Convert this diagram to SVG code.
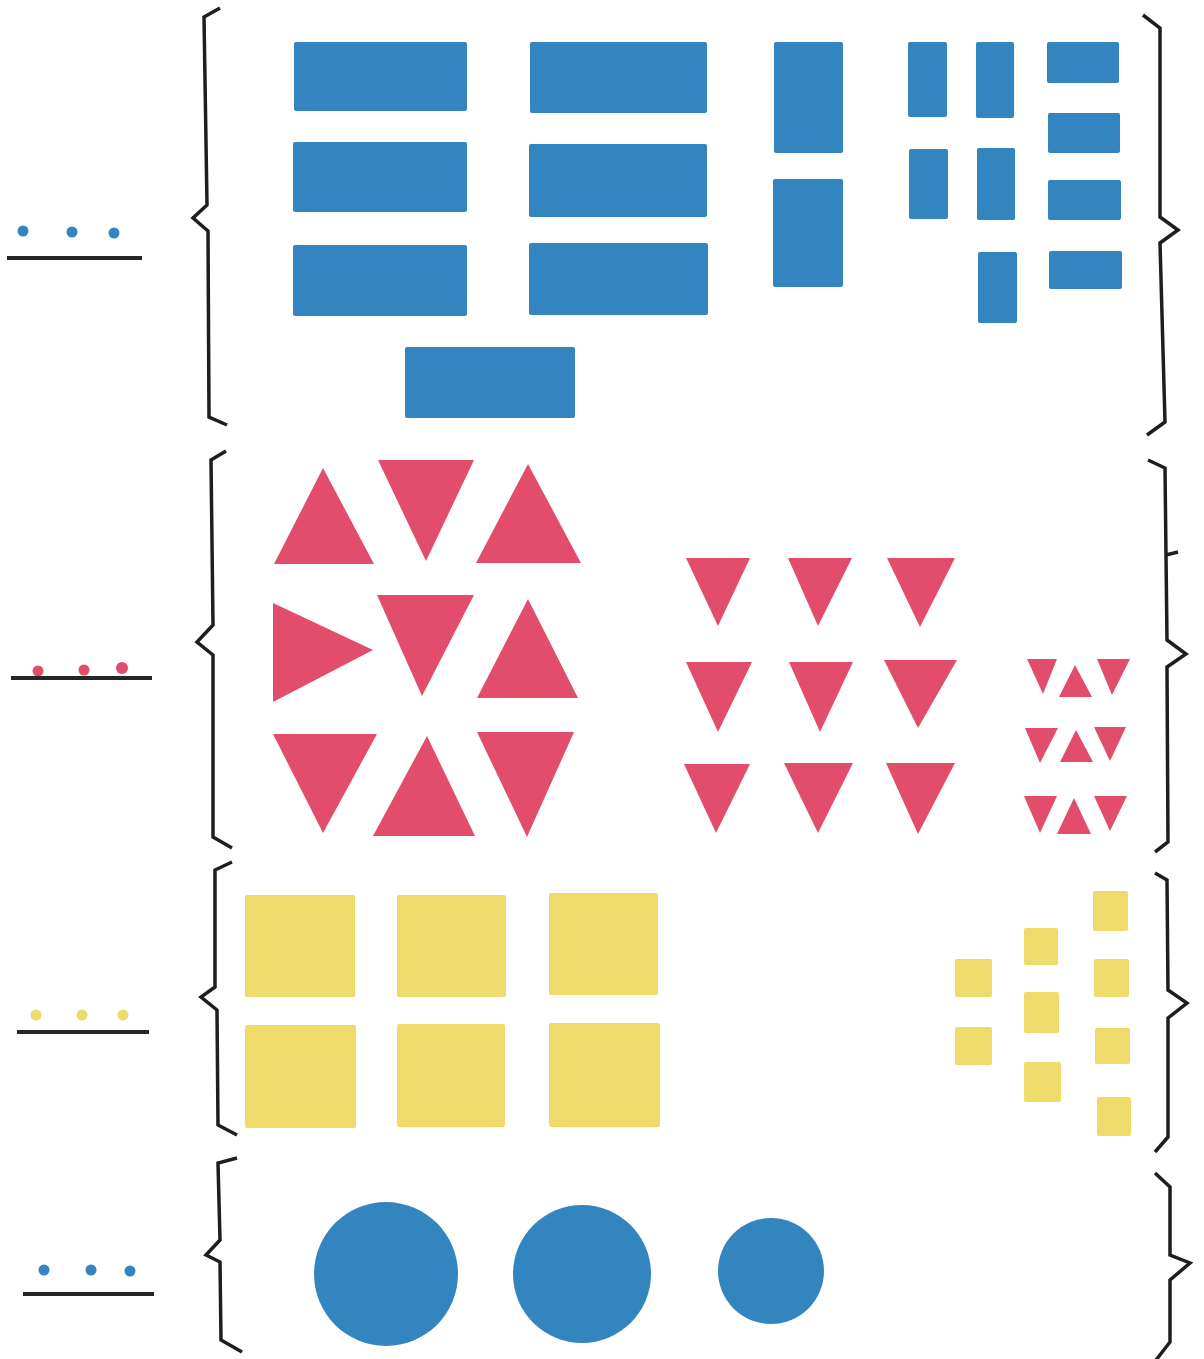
<svg xmlns="http://www.w3.org/2000/svg" width="1204" height="1359" viewBox="0 0 1204 1359">
<style>
.b{fill:#3385c0}
.r{fill:#e24d6c}
.y{fill:#eedb6a}
.br{fill:none;stroke:#1e1e1e;stroke-width:3.5;stroke-linejoin:miter}
.ln{stroke:#262626;stroke-width:4;stroke-linecap:butt}
</style>
<rect width="1204" height="1359" fill="#ffffff"/>

<g id="set-rectangles">
  <g id="label-1">
    <circle class="b" cx="23" cy="231" r="5.5"/>
    <circle class="b" cx="72" cy="232" r="5.5"/>
    <circle class="b" cx="114" cy="233" r="5.5"/>
    <line class="ln" x1="7" y1="258" x2="142" y2="258"/>
  </g>
  <path class="br" d="M220 8 L204 17 L207 205 L193 218 L208 231 L209 417 L227 425"/>
  <path class="br" d="M1143 15 L1160 28 L1160 217 L1178 230 L1160 243 L1165 422 L1147 435"/>
  <g id="rects">
    <rect class="b" x="294" y="42" width="173" height="69" rx="2"/>
    <rect class="b" x="530" y="42" width="177" height="71" rx="2"/>
    <rect class="b" x="293" y="142" width="174" height="70" rx="2"/>
    <rect class="b" x="529" y="144" width="178" height="73" rx="2"/>
    <rect class="b" x="293" y="245" width="174" height="71" rx="2"/>
    <rect class="b" x="529" y="243" width="179" height="72" rx="2"/>
    <rect class="b" x="405" y="347" width="170" height="71" rx="2"/>
    <rect class="b" x="774" y="42" width="69" height="111" rx="2"/>
    <rect class="b" x="773" y="179" width="70" height="108" rx="2"/>
    <rect class="b" x="908" y="42" width="39" height="75" rx="2"/>
    <rect class="b" x="909" y="149" width="39" height="70" rx="2"/>
    <rect class="b" x="976" y="42" width="38" height="76" rx="2"/>
    <rect class="b" x="977" y="148" width="38" height="72" rx="2"/>
    <rect class="b" x="978" y="252" width="39" height="71" rx="2"/>
    <rect class="b" x="1047" y="42" width="72" height="41" rx="2"/>
    <rect class="b" x="1048" y="113" width="72" height="40" rx="2"/>
    <rect class="b" x="1048" y="180" width="73" height="40" rx="2"/>
    <rect class="b" x="1049" y="251" width="73" height="38" rx="2"/>
  </g>
</g>

<g id="set-triangles">
  <g id="label-2">
    <circle class="r" cx="38" cy="671" r="5.5"/>
    <circle class="r" cx="84" cy="670" r="5.5"/>
    <circle class="r" cx="122" cy="668" r="6"/>
    <line class="ln" x1="11" y1="678" x2="152" y2="678"/>
  </g>
  <path class="br" d="M226 451 L211 460 L213 625 L197 642 L213 655 L213 837 L232 848"/>
  <path class="br" d="M1148 460 L1165 468 L1166 555 L1178 552 M1166 555 L1167 640 L1186 654 L1167 667 L1168 842 L1155 852"/>
  <g id="big-triangles">
    <polygon class="r" points="323,468 274,564 374,564"/>
    <polygon class="r" points="378,460 474,460 426,561"/>
    <polygon class="r" points="528,464 476,563 581,563"/>
    <polygon class="r" points="273,603 273,702 373,650"/>
    <polygon class="r" points="377,595 474,595 422,696"/>
    <polygon class="r" points="528,599 477,698 578,698"/>
    <polygon class="r" points="273,734 377,734 323,833"/>
    <polygon class="r" points="427,736 373,836 475,836"/>
    <polygon class="r" points="477,732 574,732 527,837"/>
  </g>
  <g id="mid-triangles">
    <polygon class="r" points="686,558 750,558 718,626"/>
    <polygon class="r" points="788,558 852,558 818,626"/>
    <polygon class="r" points="887,558 955,558 920,627"/>
    <polygon class="r" points="686,662 752,662 718,732"/>
    <polygon class="r" points="789,662 853,662 820,732"/>
    <polygon class="r" points="884,660 957,660 918,728"/>
    <polygon class="r" points="684,764 750,764 716,833"/>
    <polygon class="r" points="784,763 853,763 818,833"/>
    <polygon class="r" points="886,763 955,763 918,834"/>
  </g>
  <g id="small-triangles">
    <polygon class="r" points="1027,659 1057,659 1043,694"/>
    <polygon class="r" points="1075,665 1059,697 1092,697"/>
    <polygon class="r" points="1097,659 1130,659 1112,695"/>
    <polygon class="r" points="1025,728 1058,728 1040,763"/>
    <polygon class="r" points="1076,730 1060,762 1093,762"/>
    <polygon class="r" points="1094,727 1126,727 1110,761"/>
    <polygon class="r" points="1024,796 1057,796 1040,833"/>
    <polygon class="r" points="1074,798 1057,834 1091,834"/>
    <polygon class="r" points="1094,796 1127,796 1110,831"/>
  </g>
</g>

<g id="set-squares">
  <g id="label-3">
    <circle class="y" cx="36" cy="1015" r="5.5"/>
    <circle class="y" cx="82" cy="1015" r="5.5"/>
    <circle class="y" cx="123" cy="1015" r="5.5"/>
    <line class="ln" x1="17" y1="1032" x2="149" y2="1032"/>
  </g>
  <path class="br" d="M232 862 L215 870 L215 987 L201 997 L217 1010 L218 1125 L237 1135"/>
  <path class="br" d="M1155 873 L1167 880 L1168 990 L1187 1003 L1168 1018 L1168 1137 L1155 1152"/>
  <g id="big-squares">
    <rect class="y" x="245" y="895" width="110" height="102" rx="2"/>
    <rect class="y" x="397" y="895" width="109" height="102" rx="2"/>
    <rect class="y" x="549" y="893" width="109" height="102" rx="2"/>
    <rect class="y" x="245" y="1025" width="111" height="103" rx="2"/>
    <rect class="y" x="397" y="1024" width="108" height="103" rx="2"/>
    <rect class="y" x="549" y="1023" width="111" height="104" rx="2"/>
  </g>
  <g id="small-squares">
    <rect class="y" x="955" y="959" width="37" height="38" rx="2"/>
    <rect class="y" x="955" y="1027" width="37" height="38" rx="2"/>
    <rect class="y" x="1024" y="928" width="34" height="37" rx="2"/>
    <rect class="y" x="1024" y="992" width="35" height="41" rx="2"/>
    <rect class="y" x="1024" y="1062" width="37" height="40" rx="2"/>
    <rect class="y" x="1093" y="891" width="35" height="40" rx="2"/>
    <rect class="y" x="1094" y="959" width="35" height="38" rx="2"/>
    <rect class="y" x="1095" y="1028" width="35" height="36" rx="2"/>
    <rect class="y" x="1097" y="1097" width="34" height="39" rx="2"/>
  </g>
</g>

<g id="set-circles">
  <g id="label-4">
    <circle class="b" cx="44" cy="1270" r="5.5"/>
    <circle class="b" cx="91" cy="1270" r="5.5"/>
    <circle class="b" cx="130" cy="1271" r="5.5"/>
    <line class="ln" x1="23" y1="1294" x2="154" y2="1294"/>
  </g>
  <path class="br" d="M237 1158 L218 1163 L220 1240 L206 1255 L220 1262 L221 1340 L242 1352"/>
  <path class="br" d="M1155 1173 L1170 1187 L1170 1255 L1190 1263 L1170 1280 L1170 1342 L1156 1360"/>
  <g id="circles">
    <circle class="b" cx="386" cy="1274" r="72"/>
    <circle class="b" cx="582" cy="1274" r="69"/>
    <circle class="b" cx="771" cy="1271" r="53"/>
  </g>
</g>
</svg>
